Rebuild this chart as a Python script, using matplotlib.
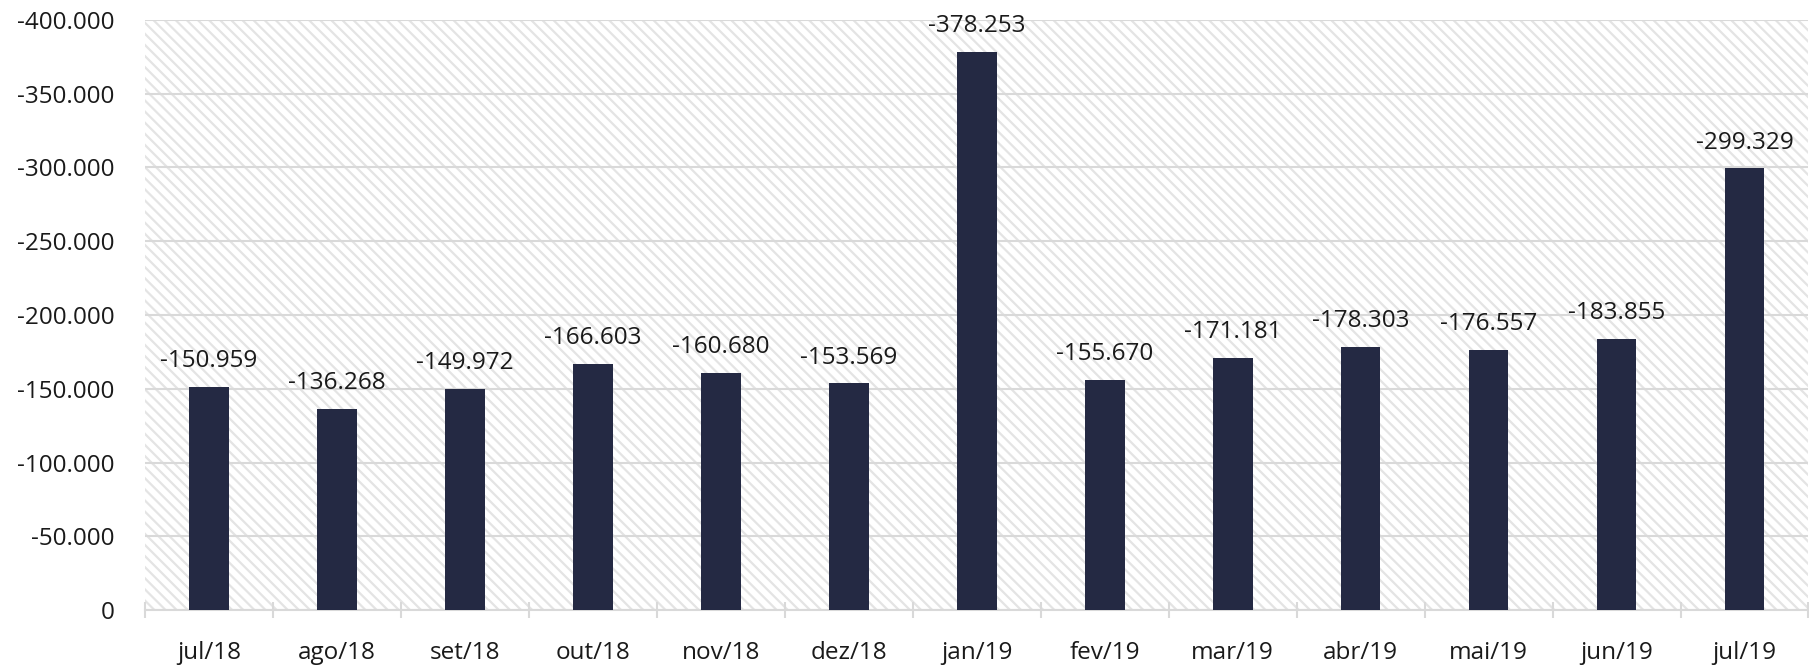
import matplotlib
matplotlib.use("Agg")
import matplotlib.pyplot as plt
from matplotlib.patches import Rectangle
from matplotlib.ticker import FuncFormatter, FixedLocator
import numpy as np

# Dados
meses = ["jul/18", "ago/18", "set/18", "out/18", "nov/18", "dez/18", "jan/19",
         "fev/19", "mar/19", "abr/19", "mai/19", "jun/19", "jul/19"]
valores = [-150959, -136268, -149972, -166603, -160680, -153569, -378253,
           -155670, -171181, -178303, -176557, -183855, -299329]

plt.rcParams["font.family"] = ["Open Sans", "DejaVu Sans"]
plt.rcParams["hatch.linewidth"] = 1.6


def fmt_br(v):
    s = f"{abs(int(round(v))):,}".replace(",", ".")
    return ("-" + s) if v < 0 else s


fig = plt.figure(figsize=(18.09, 6.71), dpi=100)
ax = fig.add_axes([0.0802, 0.0909, 0.9195, 0.8793])

# fundo hachurado
bg = Rectangle((0, 0), 1, 1, transform=ax.transAxes, facecolor="white",
               edgecolor="#e4e4e4", linewidth=0, hatch="\\\\\\", zorder=0)
ax.add_patch(bg)

x = np.arange(len(meses))
ax.bar(x, valores, width=0.31, color="#242943", zorder=3)

for xi, v in zip(x, valores):
    ax.annotate(fmt_br(v), (xi, v), xytext=(0, 10), textcoords="offset points",
                ha="center", va="bottom", fontsize=17.5, color="#1a1a1a", zorder=4)

ax.set_xlim(-0.5, len(meses) - 0.5)
ax.set_ylim(0, -400000)
ax.set_yticks(np.arange(0, -400001, -50000))
ax.yaxis.set_major_formatter(FuncFormatter(lambda v, p: fmt_br(v)))
ax.yaxis.grid(True, color="#d9d9d9", linewidth=1.5, zorder=1)
ax.set_axisbelow(True)

# ticks do eixo x: marcas nas divisas, rótulos no centro
ax.xaxis.set_major_locator(FixedLocator(np.arange(-0.5, len(meses), 1.0)))
ax.xaxis.set_minor_locator(FixedLocator(x))
ax.xaxis.set_major_formatter(plt.NullFormatter())
ax.set_xticklabels(meses, minor=True)
ax.tick_params(axis="x", which="major", direction="inout", length=12,
               width=1.5, color="#d9d9d9")
ax.tick_params(axis="x", which="minor", length=0, pad=22, labelsize=17.5,
               labelcolor="#1a1a1a")
ax.tick_params(axis="y", length=0, pad=22, labelsize=17.5, labelcolor="#1a1a1a")

for s in ["top", "right", "left"]:
    ax.spines[s].set_visible(False)
ax.spines["bottom"].set_color("#d9d9d9")
ax.spines["bottom"].set_linewidth(1.5)

fig.savefig("out.png", dpi=100)
